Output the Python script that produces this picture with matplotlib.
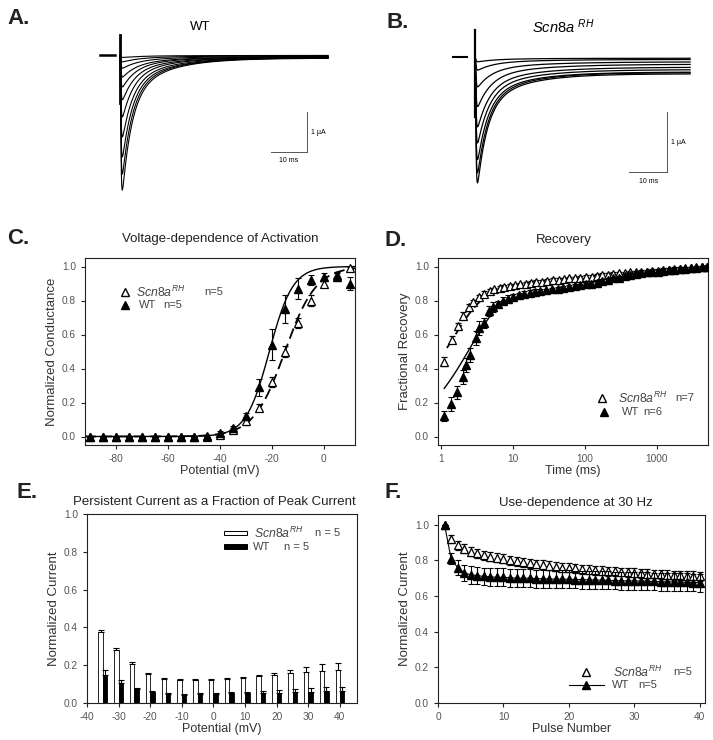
import numpy as np
import matplotlib.pyplot as plt
from matplotlib.patches import Rectangle

plt.rcParams['font.family'] = ['Liberation Sans', 'DejaVu Sans']
plt.rcParams['mathtext.fontset'] = 'custom'
plt.rcParams['mathtext.rm'] = 'Liberation Sans'
plt.rcParams['mathtext.it'] = 'Liberation Sans:italic'
plt.rcParams['mathtext.bf'] = 'Liberation Sans:bold'
plt.rcParams['axes.unicode_minus'] = False

# ---- A / B: current traces (peak, persistent level, decay tau) ----
wt_peaks = [3.38, 2.98, 2.55, 2.05, 1.55, 1.12, 0.80, 0.55, 0.33, 0.17, 0.06]
wt_pers = [0.08, 0.07, 0.07, 0.06, 0.05, 0.05, 0.04, 0.04, 0.03, 0.02, 0.01]
wt_tau = [2.6, 2.7, 2.8, 3.0, 3.2, 3.5, 3.8, 4.2, 4.6, 5.0, 5.5]
rh_peaks = [2.11, 1.94, 1.72, 1.44, 1.17, 0.83, 0.50, 0.22, 0.08]
rh_pers = [0.28, 0.26, 0.25, 0.21, 0.17, 0.12, 0.08, 0.04, 0.02]
rh_tau = [2.6, 2.7, 2.8, 3.0, 3.2, 3.5, 3.8, 4.2, 4.6]

# ---- C: voltage dependence of activation ----
act_v = [-90, -85, -80, -75, -70, -65, -60, -55, -50, -45, -40, -35, -30, -25, -20, -15, -10, -5, 0, 5, 10]
act_wt = [0, 0, 0, 0, 0, 0, 0, 0, 0, 0.005, 0.02, 0.05, 0.12, 0.29, 0.54, 0.75, 0.87, 0.92, 0.94, 0.94, 0.90]
act_wt_err = [0, 0, 0, 0, 0, 0, 0, 0, 0, 0.005, 0.01, 0.01, 0.02, 0.05, 0.09, 0.08, 0.06, 0.03, 0.02, 0.02, 0.04]
act_rh = [0, 0, 0, 0, 0, 0, 0, 0, 0, 0, 0.01, 0.04, 0.09, 0.17, 0.32, 0.50, 0.67, 0.80, 0.90, 0.95, 0.99]
act_rh_err = [0, 0, 0, 0, 0, 0, 0, 0, 0, 0, 0.005, 0.01, 0.02, 0.02, 0.03, 0.03, 0.03, 0.03, 0.02, 0.02, 0.01]
fit_wt = (-21.0, 4.5)   # V1/2, slope
fit_rh = (-15.0, 6.0)

# ---- D: recovery from inactivation ----
rec_t_rh = [1.1, 1.4, 1.7, 2.0, 2.4, 2.8, 3.3, 4.0, 4.7, 5.5, 6.5, 7.5, 9, 10.5, 12.5, 15, 18, 21, 25, 30,
            36, 43, 51, 61, 73, 87, 104, 124, 148, 176, 210, 250, 300, 360, 430, 510, 610, 730, 870, 1040,
            1240, 1480, 1770, 2110, 2520, 3000, 3590, 4280, 5000]
rec_rh = [0.44, 0.57, 0.65, 0.71, 0.76, 0.79, 0.82, 0.84, 0.855, 0.865, 0.875, 0.88, 0.885, 0.89, 0.895, 0.90, 0.905, 0.91, 0.91, 0.915,
          0.92, 0.92, 0.925, 0.93, 0.93, 0.935, 0.94, 0.94, 0.945, 0.95, 0.95, 0.955, 0.96, 0.96, 0.965, 0.965, 0.97, 0.97, 0.975, 0.975,
          0.98, 0.98, 0.985, 0.985, 0.99, 0.99, 0.995, 0.995, 1.0]
rec_rh_err = [0.025, 0.02, 0.02, 0.02, 0.02, 0.015, 0.015, 0.015, 0.01, 0.01, 0.01, 0.01, 0.01, 0.01, 0.01, 0.01, 0.01, 0.01, 0.01, 0.01,
              0.01, 0.01, 0.01, 0.01, 0.01, 0.01, 0.01, 0.01, 0.01, 0.01, 0.01, 0.01, 0.01, 0.01, 0.01, 0.01, 0.01, 0.01, 0.01, 0.01,
              0.01, 0.01, 0.01, 0.01, 0.01, 0.01, 0.01, 0.01, 0.01]
rec_t_wt = [1.1, 1.35, 1.65, 2.0, 2.2, 2.5, 3.0, 3.4, 3.9, 4.6, 5.3, 6.2, 7.2, 8.5, 10, 12, 14, 17, 20, 24,
            29, 35, 42, 50, 60, 72, 86, 103, 123, 147, 176, 210, 250, 300, 360, 430, 510, 610, 730, 870,
            1040, 1240, 1480, 1770, 2110, 2520, 3000, 3590, 4280, 5000]
rec_wt = [0.12, 0.19, 0.26, 0.35, 0.42, 0.48, 0.58, 0.64, 0.67, 0.74, 0.76, 0.78, 0.80, 0.81, 0.82, 0.83, 0.84, 0.845, 0.85, 0.855,
          0.86, 0.865, 0.87, 0.875, 0.88, 0.885, 0.89, 0.895, 0.90, 0.905, 0.915, 0.92, 0.93, 0.935, 0.945, 0.95, 0.955, 0.96, 0.965, 0.97,
          0.97, 0.975, 0.98, 0.98, 0.985, 0.985, 0.99, 0.99, 0.995, 0.995]
rec_wt_err = [0.03, 0.04, 0.04, 0.04, 0.04, 0.04, 0.04, 0.04, 0.03, 0.03, 0.03, 0.02, 0.02, 0.02, 0.02, 0.015, 0.015, 0.015, 0.015, 0.01,
              0.01, 0.01, 0.01, 0.01, 0.01, 0.01, 0.01, 0.01, 0.01, 0.01, 0.01, 0.01, 0.01, 0.01, 0.01, 0.01, 0.01, 0.01, 0.01, 0.01,
              0.01, 0.01, 0.01, 0.01, 0.01, 0.01, 0.01, 0.01, 0.01, 0.01]
# double exponential fits: (a1, tau1, a2, tau2), drawn over the fitted range
rec_fit_wt = (0.85, 2.5, 0.17, 300.0)
rec_fit_rh = (0.80, 1.4, 0.14, 300.0)
rec_fit_wt_range = (1.1, 8.0)
rec_fit_rh_range = (1.2, 5.0)

# ---- E: persistent current ----
pers_v = [-35, -30, -25, -20, -15, -10, -5, 0, 5, 10, 15, 20, 25, 30, 35, 40]
pers_rh = [0.377, 0.28, 0.204, 0.155, 0.126, 0.12, 0.12, 0.12, 0.127, 0.134, 0.142, 0.15, 0.16, 0.166, 0.17, 0.172]
pers_rh_err = [0.01, 0.012, 0.012, 0.006, 0.007, 0.005, 0.005, 0.005, 0.006, 0.006, 0.007, 0.01, 0.014, 0.022, 0.034, 0.04]
pers_wt = [0.15, 0.108, 0.073, 0.057, 0.05, 0.044, 0.046, 0.05, 0.053, 0.053, 0.053, 0.053, 0.058, 0.058, 0.062, 0.062]
pers_wt_err = [0.027, 0.012, 0.007, 0.005, 0.005, 0.005, 0.005, 0.005, 0.005, 0.006, 0.008, 0.014, 0.016, 0.023, 0.023, 0.023]

# ---- F: use dependence ----
pulse = list(range(1, 41))
use_rh = [1.0, 0.92, 0.885, 0.865, 0.85, 0.84, 0.83, 0.82, 0.815, 0.81, 0.80, 0.795, 0.79, 0.785, 0.78, 0.775, 0.77, 0.765, 0.76, 0.758,
          0.755, 0.75, 0.748, 0.745, 0.742, 0.74, 0.738, 0.735, 0.733, 0.73, 0.728, 0.726, 0.724, 0.722, 0.72, 0.718, 0.716, 0.715, 0.713, 0.71]
use_rh_err = [0.0, 0.02, 0.025, 0.025, 0.025, 0.025, 0.025, 0.025, 0.025, 0.025, 0.025, 0.025, 0.025, 0.025, 0.025, 0.025, 0.025, 0.025, 0.025, 0.025,
              0.025, 0.025, 0.025, 0.025, 0.025, 0.025, 0.025, 0.025, 0.025, 0.025, 0.025, 0.025, 0.025, 0.025, 0.025, 0.025, 0.025, 0.025, 0.025, 0.025]
use_wt = [1.0, 0.81, 0.76, 0.73, 0.72, 0.715, 0.71, 0.708, 0.705, 0.705, 0.703, 0.70, 0.70, 0.70, 0.698, 0.697, 0.696, 0.695, 0.695, 0.694,
          0.693, 0.692, 0.691, 0.69, 0.689, 0.688, 0.687, 0.686, 0.685, 0.685, 0.684, 0.683, 0.682, 0.681, 0.68, 0.679, 0.678, 0.677, 0.676, 0.675]
use_wt_err = [0.0, 0.03, 0.04, 0.045, 0.05, 0.05, 0.05, 0.05, 0.05, 0.05, 0.05, 0.05, 0.05, 0.05, 0.05, 0.05, 0.05, 0.05, 0.05, 0.05,
              0.05, 0.05, 0.05, 0.05, 0.05, 0.05, 0.05, 0.05, 0.05, 0.05, 0.05, 0.05, 0.05, 0.05, 0.05, 0.05, 0.05, 0.05, 0.05, 0.05]

W, H = 713, 740
RH = r'$\mathit{Scn8a}^{RH}$'
LEG = dict(fontsize=8, color='#444444', va='center')
LEG_RH = dict(fontsize=8.8, color='#444444', va='center')


def box(l, t, r, b):
    return [l / W, 1 - b / H, (r - l) / W, (b - t) / H]


def ftext(x, y, s, **kw):
    fig.text(x / W, 1 - y / H, s, **kw)


def style(ax):
    for s in ax.spines.values():
        s.set_linewidth(0.8)
        s.set_color('#222222')
    ax.tick_params(labelsize=7.3, length=3, width=0.8, colors='#222222', labelcolor='#555555')


def na_trace(t, peak, pers, tau):
    m = 1 - np.exp(-t / 0.15)
    h = 0.75 * np.exp(-t / tau) + 0.25 * np.exp(-t / (4 * tau))
    s = m ** 3 * h
    return -(peak - pers) * s / s.max() - pers * m ** 3


def boltz(v, vh, k):
    return 1.0 / (1.0 + np.exp((vh - v) / k))


def dexp(t, p):
    a1, t1, a2, t2 = p
    return 1 - a1 * np.exp(-t / t1) - a2 * np.exp(-t / t2)


fig = plt.figure(figsize=(7.13, 7.40), dpi=100)

# ---------------- A ----------------
axA = fig.add_axes(box(95, 25, 335, 200))
axA.set_xlim(-25 / 3.6, 215 / 3.6)
axA.set_ylim(-145 / 40, 30 / 40)
axA.axis('off')
tA = np.linspace(0, 57.8, 2000)
for p, q, tau in zip(wt_peaks, wt_pers, wt_tau):
    axA.plot(tA, na_trace(tA, p, q, tau), color='black', lw=0.8)
axA.plot([-5.5, -1.4], [0, 0], color='black', lw=1.8)
axA.plot([0, 0], [0.5, -1.2], color='black', lw=2.0)
axA.plot([51.9, 51.9], [-1.425, -2.425], color='#555555', lw=0.7)
axA.plot([41.9, 51.9], [-2.425, -2.425], color='#555555', lw=0.7)
axA.text(55, -1.925, '1 \u00b5A', fontsize=5, va='center', ha='center')
axA.text(46.9, -2.63, '10 ms', fontsize=5, va='center', ha='center')
ftext(200, 27, 'WT', fontsize=9.5, ha='center', va='center')

# ---------------- B ----------------
axB = fig.add_axes(box(445, 22, 695, 200))
axB.set_xlim(-30 / 3.8, 220 / 3.8)
axB.set_ylim(-143 / 60, 35 / 60)
axB.axis('off')
tB = np.linspace(0, 56.6, 2000)
for p, q, tau in zip(rh_peaks, rh_pers, rh_tau):
    axB.plot(tB, na_trace(tB, p, q, tau), color='black', lw=0.9)
axB.plot([-5.8, -2.1], [0, 0], color='black', lw=1.5)
axB.plot([0, 0], [0.45, -1.0], color='black', lw=1.6)
axB.plot([50.5, 50.5], [-0.917, -1.917], color='#555555', lw=0.7)
axB.plot([40.5, 50.5], [-1.917, -1.917], color='#555555', lw=0.7)
axB.text(53.4, -1.43, '1 \u00b5A', fontsize=5, va='center', ha='center')
axB.text(45.8, -2.08, '10 ms', fontsize=5, va='center', ha='center')
ftext(563, 27, r'$\mathit{Scn8a}\ ^{RH}$', fontsize=10.5, ha='center', va='center')

# ---------------- C ----------------
axC = fig.add_axes(box(85, 258, 355, 445))
v = np.linspace(-92, 12, 400)
axC.plot(v, boltz(v, *fit_wt), color='black', lw=1.0, zorder=1)
axC.plot(v, boltz(v, *fit_rh), color='black', lw=1.3, dashes=(6, 3), zorder=1)
axC.errorbar(act_v, act_rh, yerr=act_rh_err, fmt='^', ms=6, mfc='white', mec='black', mew=0.9,
             ecolor='black', elinewidth=0.8, capsize=2.5, capthick=0.8, zorder=3)
axC.errorbar(act_v, act_wt, yerr=act_wt_err, fmt='^', ms=6, color='black',
             elinewidth=0.8, capsize=2.5, capthick=0.8, zorder=4)
axC.set_xlim(-92, 12)
axC.set_ylim(-0.05, 1.05)
axC.set_xticks([-80, -60, -40, -20, 0])
axC.set_yticks([0, 0.2, 0.4, 0.6, 0.8, 1.0])
axC.set_yticklabels(['0.0', '0.2', '0.4', '0.6', '0.8', '1.0'])
axC.set_xlabel('Potential (mV)', fontsize=9, color='#333333', labelpad=1)
axC.set_ylabel('Normalized Conductance', fontsize=9.5, color='#333333', labelpad=3)
style(axC)
axC.plot([0.148], [0.818], '^', ms=6, mfc='white', mec='black', transform=axC.transAxes)
axC.plot([0.148], [0.747], '^', ms=6, color='black', transform=axC.transAxes)
axC.text(0.19, 0.818, RH, transform=axC.transAxes, **LEG_RH)
axC.text(0.44, 0.818, 'n=5', transform=axC.transAxes, **LEG)
axC.text(0.20, 0.747, 'WT', transform=axC.transAxes, **LEG)
axC.text(0.29, 0.747, 'n=5', transform=axC.transAxes, **LEG)
ftext(220, 239, 'Voltage-dependence of Activation', fontsize=9.5, ha='center', va='center', color='#222222')

# ---------------- D ----------------
axD = fig.add_axes(box(438, 258, 708, 445))
axD.set_xscale('log')
tw = np.geomspace(*rec_fit_wt_range, 200)
axD.plot(tw, dexp(tw, rec_fit_wt), color='black', lw=1.0, zorder=1)
tr = np.geomspace(*rec_fit_rh_range, 200)
axD.plot(tr, dexp(tr, rec_fit_rh), color='black', lw=1.3, dashes=(6, 3), zorder=1)
axD.errorbar(rec_t_rh, rec_rh, yerr=rec_rh_err, fmt='^', ms=6, mfc='white', mec='black', mew=0.9,
             ecolor='black', elinewidth=0.8, capsize=2.5, capthick=0.8, zorder=3)
axD.errorbar(rec_t_wt, rec_wt, yerr=rec_wt_err, fmt='^', ms=6, color='black',
             elinewidth=0.8, capsize=2.5, capthick=0.8, zorder=4)
axD.set_xlim(0.9, 5200)
axD.set_ylim(-0.05, 1.05)
axD.set_xticks([1, 10, 100, 1000])
axD.set_xticklabels(['1', '10', '100', '1000'])
axD.minorticks_off()
axD.set_yticks([0, 0.2, 0.4, 0.6, 0.8, 1.0])
axD.set_yticklabels(['0.0', '0.2', '0.4', '0.6', '0.8', '1.0'])
axD.set_xlabel('Time (ms)', fontsize=9, color='#333333', labelpad=1)
axD.set_ylabel('Fractional Recovery', fontsize=9.5, color='#333333', labelpad=3)
style(axD)
axD.plot([0.609], [0.249], '^', ms=6, mfc='white', mec='black', transform=axD.transAxes)
axD.plot([0.615], [0.178], '^', ms=6, color='black', transform=axD.transAxes)
axD.text(0.667, 0.249, RH, transform=axD.transAxes, **LEG_RH)
axD.text(0.877, 0.249, 'n=7', transform=axD.transAxes, **LEG)
axD.text(0.68, 0.178, 'WT', transform=axD.transAxes, **LEG)
axD.text(0.76, 0.178, 'n=6', transform=axD.transAxes, **LEG)
ftext(564, 240, 'Recovery', fontsize=9.5, ha='center', va='center', color='#222222')

# ---------------- E ----------------
axE = fig.add_axes(box(87, 514, 357, 703))
xv = np.array(pers_v, dtype=float)
zeros = np.zeros(len(pers_v))
axE.bar(xv - 0.7, pers_rh, width=1.4, color='white', edgecolor='black', lw=0.6,
        yerr=[zeros, pers_rh_err], capsize=2.2, error_kw=dict(elinewidth=0.8, capthick=0.8, ecolor='black'))
axE.bar(xv + 0.7, pers_wt, width=1.4, color='black', edgecolor='black', lw=0.6,
        yerr=[zeros, pers_wt_err], capsize=2.2, error_kw=dict(elinewidth=0.8, capthick=0.8, ecolor='black'))
axE.set_xlim(-40, 45.4)
axE.set_ylim(0, 1.0)
axE.set_xticks(range(-40, 41, 10))
axE.set_yticks([0, 0.2, 0.4, 0.6, 0.8, 1.0])
axE.set_yticklabels(['0.0', '0.2', '0.4', '0.6', '0.8', '1.0'])
axE.set_xlabel('Potential (mV)', fontsize=9, color='#333333', labelpad=1)
axE.set_ylabel('Normalized Current', fontsize=9.5, color='#333333', labelpad=3)
style(axE)
axE.add_patch(Rectangle((0.507, 0.89), 0.087, 0.022, transform=axE.transAxes,
                        facecolor='white', edgecolor='black', lw=0.7))
axE.add_patch(Rectangle((0.507, 0.817), 0.087, 0.022, transform=axE.transAxes,
                        facecolor='black', edgecolor='black', lw=0.7))
axE.text(0.619, 0.9, RH, transform=axE.transAxes, **LEG_RH)
axE.text(0.845, 0.9, 'n = 5', transform=axE.transAxes, **LEG)
axE.text(0.613, 0.828, 'WT', transform=axE.transAxes, **LEG)
axE.text(0.728, 0.828, 'n = 5', transform=axE.transAxes, **LEG)
ftext(214, 502, 'Persistent Current as a Fraction of Peak Current', fontsize=9.5, ha='center', va='center', color='#222222')

# ---------------- F ----------------
axF = fig.add_axes(box(438, 515, 705, 703))
axF.errorbar(pulse, use_rh, yerr=use_rh_err, fmt='^', ms=6, mfc='white', mec='black', mew=0.9,
             ecolor='black', elinewidth=0.8, capsize=2.5, capthick=0.8, zorder=3)
axF.errorbar(pulse, use_wt, yerr=use_wt_err, fmt='-^', ms=6, color='black', lw=0.8,
             elinewidth=0.8, capsize=2.5, capthick=0.8, zorder=4)
axF.set_xlim(0, 40.8)
axF.set_ylim(0, 1.055)
axF.set_xticks([0, 10, 20, 30, 40])
axF.set_yticks([0, 0.2, 0.4, 0.6, 0.8, 1.0])
axF.set_yticklabels(['0.0', '0.2', '0.4', '0.6', '0.8', '1.0'])
axF.set_xlabel('Pulse Number', fontsize=9, color='#333333', labelpad=1)
axF.set_ylabel('Normalized Current', fontsize=9.5, color='#333333', labelpad=3)
style(axF)
axF.plot([0.556], [0.165], '^', ms=6, mfc='white', mec='black', transform=axF.transAxes)
axF.plot([0.49, 0.62], [0.094, 0.094], color='black', lw=0.8, transform=axF.transAxes)
axF.plot([0.555], [0.094], '^', ms=6, color='black', transform=axF.transAxes)
axF.text(0.656, 0.165, RH, transform=axF.transAxes, **LEG_RH)
axF.text(0.88, 0.165, 'n=5', transform=axF.transAxes, **LEG)
axF.text(0.65, 0.094, 'WT', transform=axF.transAxes, **LEG)
axF.text(0.75, 0.094, 'n=5', transform=axF.transAxes, **LEG)
ftext(576, 503, 'Use-dependence at 30 Hz', fontsize=9.5, ha='center', va='center', color='#222222')

# panel letters
for lab, x, y in [('A.', 7, 19), ('B.', 387, 22), ('C.', 7, 238), ('D.', 385, 241),
                  ('E.', 17, 492), ('F.', 385, 493)]:
    ftext(x, y, lab, fontsize=16, fontweight='bold', ha='left', va='center', color='#222222')

fig.savefig('out.png', dpi=100)
